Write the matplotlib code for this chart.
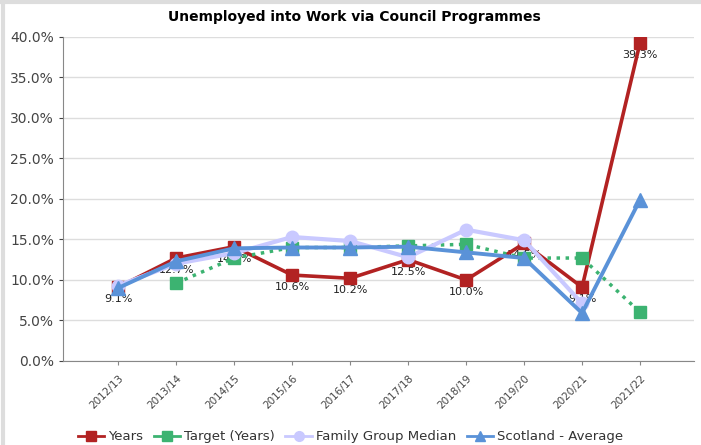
import numpy as np
from matplotlib import pyplot as plt
from matplotlib.lines import Line2D
from matplotlib.ticker import FuncFormatter

# dati
anni = ["2012/13", "2013/14", "2014/15", "2015/16", "2016/17",
        "2017/18", "2018/19", "2019/20", "2020/21", "2021/22"]
years = [9.1, 12.7, 14.1, 10.6, 10.2, 12.5, 10.0, 14.5, 9.1, 39.3]
target = [np.nan, 9.6, 12.7, 14.0, 14.0, 14.2, 14.4, 12.7, 12.7, 6.0]
family_median = [9.3, 12.0, 13.3, 15.3, 14.8, 12.8, 16.2, 14.9, 7.1, np.nan]
scotland_avg = [9.0, 12.3, 13.9, 14.0, 14.0, 14.1, 13.4, 12.7, 5.9, 19.9]
years_labels = ["9.1%", "12.7%", "14.1%", "10.6%", "10.2%",
                "12.5%", "10.0%", "14.5%", "9.1%", "39.3%"]

rosso = "#B22222"
verde = "#3CB371"
lilla = "#C9C9FF"
blu = "#5A92D8"

x = np.arange(len(anni))

fig = plt.figure(figsize=(7.01, 4.45), dpi=100)
ax = fig.add_axes([0.090, 0.189, 0.900, 0.728])

ax.plot(x, years, color=rosso, lw=2.6, marker="s", ms=8.5, zorder=3)
ax.plot(x, target, color=verde, lw=2.5, ls=(0, (1, 1.6)), marker="s", ms=8.5,
        zorder=4)
ax.plot(x, family_median, color=lilla, lw=3, marker="o", ms=9, zorder=5)
ax.plot(x, scotland_avg, color=blu, lw=2.8, marker="^", ms=10, zorder=6)

# etichette dei valori sotto i punti rossi (disegnate sotto le linee)
for xi, v, t in zip(x, years, years_labels):
    ax.annotate(t, (xi, v), xytext=(0, -5), textcoords="offset points",
                ha="center", va="top", fontsize=8, color="#222222", zorder=2.5)

ax.set_xlim(-0.95, 9.93)
ax.set_ylim(0, 40)
ax.set_yticks(np.arange(0, 41, 5))
ax.yaxis.set_major_formatter(FuncFormatter(lambda v, p: "%.1f%%" % v))
ax.set_xticks(x)
ax.set_xticklabels(anni, rotation=45, ha="right", rotation_mode="anchor",
                   fontsize=7.5, color="#444444")
ax.tick_params(axis="y", labelsize=10, colors="#444444", length=3)
ax.tick_params(axis="x", length=3, color="#888888", pad=6)
ax.grid(axis="y", color="#DDDDDD", lw=1)
ax.set_axisbelow(True)
for s in ["top", "right"]:
    ax.spines[s].set_visible(False)
for s in ["left", "bottom"]:
    ax.spines[s].set_color("#888888")

fig.text(0.506, 0.962, "Unemployed into Work via Council Programmes",
         ha="center", va="center", fontsize=10, fontweight="bold")

handles = [
    Line2D([], [], color=rosso, lw=2, marker="s", ms=7),
    Line2D([], [], color=verde, lw=2, marker="s", ms=7),
    Line2D([], [], color=lilla, lw=2, marker="o", ms=7),
    Line2D([], [], color=blu, lw=2, marker="^", ms=7),
]
fig.legend(handles, ["Years", "Target (Years)", "Family Group Median",
                     "Scotland - Average"],
           loc="center", bbox_to_anchor=(0.50, 0.018), ncol=4, frameon=False,
           fontsize=9.5, handlelength=2.0, handletextpad=0.3, columnspacing=0.8,
           labelcolor="#333333")

# bordo grigio del pannello
fig.add_artist(Line2D([0, 1], [0.995, 0.995], color="#DDDDDD", lw=3,
                      transform=fig.transFigure))
fig.add_artist(Line2D([0.004, 0.004], [0, 1], color="#DDDDDD", lw=3,
                      transform=fig.transFigure))

fig.savefig("out.png")
plt.close()
